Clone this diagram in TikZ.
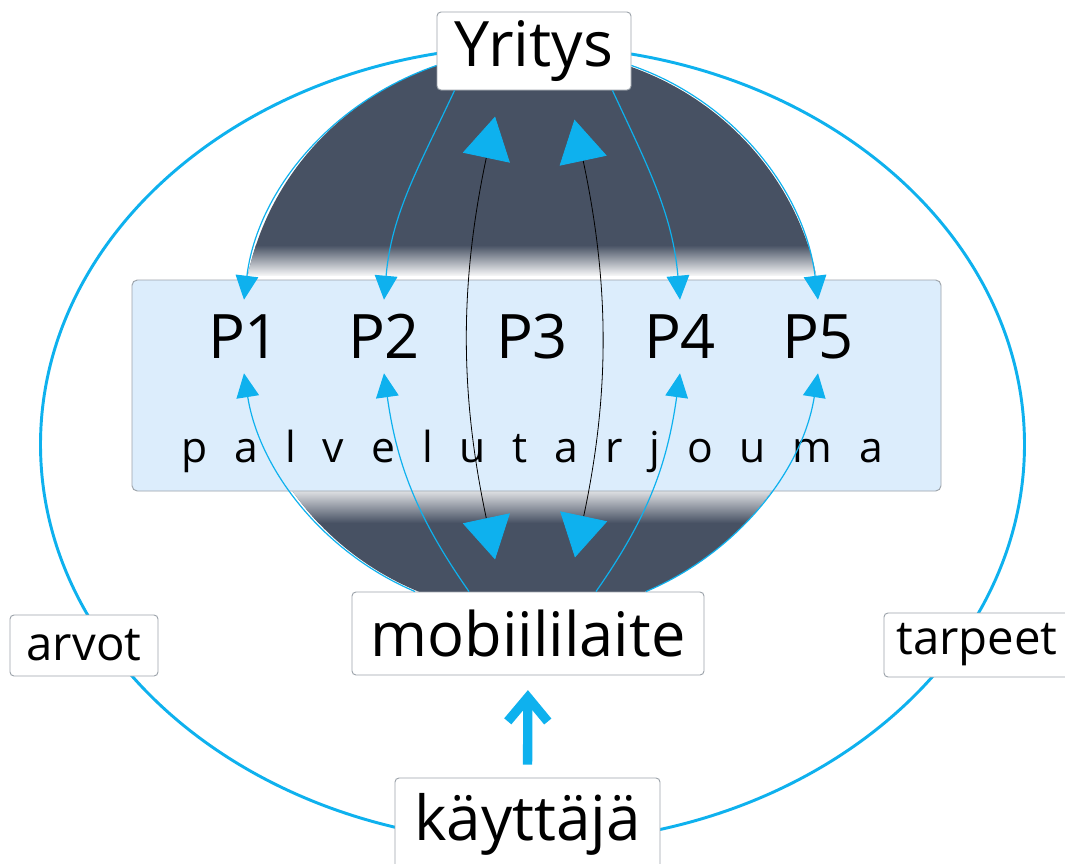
\documentclass[tikz,border=0pt]{standalone}
\usepackage{fontspec}
\setmainfont{Open Sans}
\usetikzlibrary{arrows.meta,calc}

\definecolor{skyline}{HTML}{0EB1EE}
\definecolor{slate}{HTML}{475163}
\definecolor{panelfill}{HTML}{DCEDFC}
\definecolor{frame}{HTML}{9CA3AA}

\begin{document}
\begin{tikzpicture}[x=0.75pt,y=0.75pt,
  tag/.style={draw=frame, line width=0.7pt, fill=white, rounded corners=3pt, inner sep=0pt},
  pnode/.style={inner sep=0pt, minimum width=60pt, minimum height=54.75pt, font=\fontsize{46}{46}\selectfont},
  feed/.style={skyline, line width=0.9pt, -{Triangle[length=18pt,width=17pt]}},
  bigpair/.style={black, line width=0.6pt,
    {Triangle[length=31.5pt,width=36pt,sep=7pt,color=skyline]}-{Triangle[length=31.5pt,width=36pt,sep=7pt,color=skyline]}},
  lift/.style={skyline, line width=7pt, -{Straight Barb[length=18pt,width=30pt]}}
]
\useasboundingbox (0,0) rectangle (1065,-864);
\fill[white] (0,0) rectangle (1065,-864);

% outer cycle
\draw[skyline, line width=2.2pt] (532.5,-444.5) ellipse [x radius=492, y radius=398.5];

% dark sphere fading into the offer panel
\begin{scope}
  \clip (532,-332) ellipse [x radius=290, y radius=282];
  \fill[slate] (0,0) rectangle (1065,-864);
  \shade[top color=slate, bottom color=white] (200,-245) rectangle (870,-277);
  \fill[white] (200,-276) rectangle (870,-492);
  \shade[top color=slate!18, bottom color=slate] (200,-491) rectangle (870,-523);
\end{scope}

% offer panel
\node[draw=frame, line width=0.7pt, fill=panelfill, rounded corners=4pt,
      minimum width=606.75pt, minimum height=158.25pt, inner sep=0pt] (panel) at (536.5,-385.5) {};
\node[font=\fontsize{32}{32}\selectfont, anchor=base, inner sep=0pt] (offer) at (532.5,-462)
  {\addfontfeature{LetterSpace=63}palvelutarjouma};

\node[pnode] (P1) at (244,-336.5) {P1};
\node[pnode] (P2) at (384,-336.5) {P2};
\node[pnode] (P3) at (532,-336.5) {P3};
\node[pnode] (P4) at (680,-336.5) {P4};
\node[pnode] (P5) at (818,-336.5) {P5};

% main nodes
\node[tag, minimum width=145.5pt, minimum height=58.5pt, font=\fontsize{47}{47}\selectfont] (Y) at (534,-51) {Yritys};
\node[tag, minimum width=264pt, minimum height=62.25pt, font=\fontsize{46}{46}\selectfont] (M) at (528,-633.5) {mobiililaite};
\node[tag, minimum width=198.75pt, minimum height=69pt, font=\fontsize{46.5}{46.5}\selectfont] (K) at (527.5,-824) {käyttäjä};
\node[tag, minimum width=111pt, minimum height=45.75pt, font=\fontsize{35.5}{35.5}\selectfont] (arvot) at (84,-645.5) {arvot};
\node[tag, minimum width=139.5pt, minimum height=48pt, font=\fontsize{35.5}{35.5}\selectfont] (tarpeet) at (977,-645) {tarpeet};

% company to services
\draw[feed] ($(Y.west)+(0,-14.5)$) to[out=199, in=83, looseness=0.93] (P1.north);
\draw[feed] ($(Y.south west)+(18,0)$) to[out=245, in=85] (P2.north);
\draw[feed] ($(Y.south east)+(-19,0)$) to[out=-65, in=95] (P4.north);
\draw[feed] ($(Y.east)+(0,-14.5)$) to[out=-19, in=97, looseness=0.93] (P5.north);

% device to services
\draw[feed] ($(M.north)+(-113,0)$) to[out=157, in=-81, looseness=0.91] (P1.south);
\draw[feed] ($(M.north)+(-59,0)$) to[out=125, in=-82] (P2.south);
\draw[feed] ($(M.north)+(68,0)$) to[out=55, in=-98] (P4.south);
\draw[feed] ($(M.north)+(118,0)$) to[out=23, in=-99, looseness=0.91] (P5.south);

% device and company
\draw[bigpair] ($(M.north)+(-31,23)$) to[out=102, in=258] ($(Y.south)+(-37,-17)$);
\draw[bigpair] ($(M.north)+(45,25)$) to[out=78, in=282] ($(Y.south)+(38.5,-20)$);

% user to device
\draw[lift, shorten <=9.75pt, shorten >=11pt] (K.north) -- (M.south);
\end{tikzpicture}
\end{document}
